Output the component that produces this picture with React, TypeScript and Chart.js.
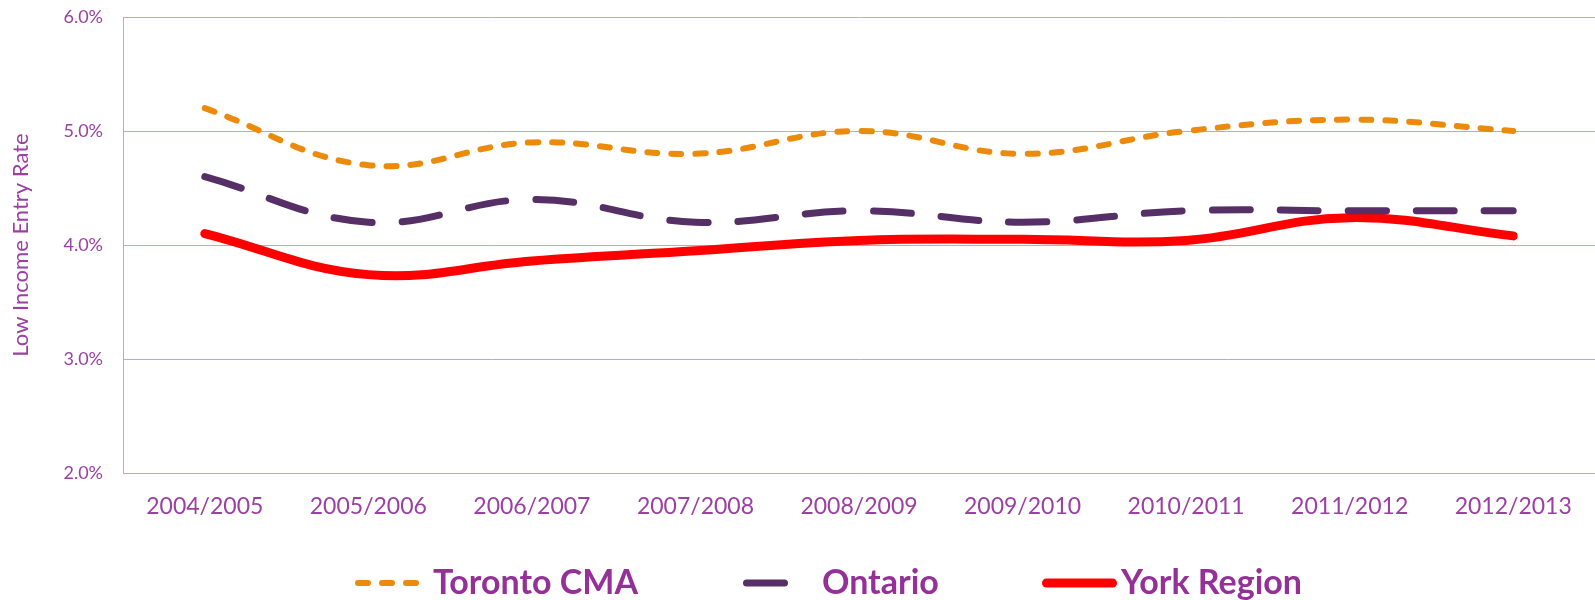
import React, { useEffect, useRef } from "react";
import { Chart, registerables } from "chart.js";

Chart.register(...registerables);

// ---- Data ----
const categories = [
  "2004/2005",
  "2005/2006",
  "2006/2007",
  "2007/2008",
  "2008/2009",
  "2009/2010",
  "2010/2011",
  "2011/2012",
  "2012/2013",
];
const seriesNames = ["Toronto CMA", "Ontario", "York Region"];
const torontoCMA = [5.2, 4.7, 4.9, 4.8, 5.0, 4.8, 5.0, 5.1, 5.0];
const ontario = [4.6, 4.2, 4.4, 4.2, 4.3, 4.2, 4.3, 4.3, 4.3];
const yorkRegion = [4.1, 3.74, 3.86, 3.95, 4.04, 4.05, 4.04, 4.24, 4.08];
const yMin = 2;
const yMax = 6;
const yStep = 1;
const yAxisTitle = "Low Income Entry Rate";

// ---- Styles ----
const FONT = "Lato, 'Open Sans', sans-serif";
const TEXT_COLOR = "#9C3FA3";
const LEGEND_COLOR = "#953098";
const GRID_COLOR = "#C9A0D4";
const seriesColors = ["#EB8A0B", "#552F65", "#FF0000"];
const seriesWidths = [6, 7, 9];
const seriesDashes: number[][] = [[10, 14], [38, 30], []];

// Legend layout (pixel positions)
const legendY = 583;
const legendStarts = [355, 743, 1042];
const legendLengths = [70, 50, 75];
const legendTextX = [433, 822, 1121];
const legendBaseline = 594;

const legendPlugin = {
  id: "customLegend",
  afterDraw(chart: any) {
    const ctx = chart.ctx as CanvasRenderingContext2D;
    chart.data.datasets.forEach((ds: any, i: number) => {
      ctx.save();
      const lw = ds.borderWidth;
      ctx.strokeStyle = ds.borderColor;
      ctx.lineWidth = lw;
      ctx.lineCap = "round";
      ctx.setLineDash(ds.borderDash || []);
      ctx.beginPath();
      ctx.moveTo(legendStarts[i] + lw / 2, legendY);
      ctx.lineTo(legendStarts[i] + legendLengths[i] - lw / 2, legendY);
      ctx.stroke();
      ctx.setLineDash([]);
      ctx.fillStyle = LEGEND_COLOR;
      ctx.font = `bold 34px ${FONT}`;
      ctx.textBaseline = "alphabetic";
      ctx.textAlign = "left";
      ctx.fillText(ds.label, legendTextX[i], legendBaseline);
      ctx.restore();
    });
  },
};

export default function App() {
  const canvasRef = useRef<HTMLCanvasElement | null>(null);

  useEffect(() => {
    document.body.style.margin = "0";
    const canvas = canvasRef.current;
    if (!canvas) return;
    const seriesData = [torontoCMA, ontario, yorkRegion];
    const chart = new Chart(canvas, {
      type: "line",
      data: {
        labels: categories,
        datasets: seriesNames.map((name, i) => ({
          label: name,
          data: seriesData[i],
          borderColor: seriesColors[i],
          backgroundColor: seriesColors[i],
          borderWidth: seriesWidths[i],
          borderDash: seriesDashes[i],
          borderCapStyle: "round" as const,
          borderJoinStyle: "round" as const,
          pointRadius: 0,
          pointHoverRadius: 0,
          tension: 0.4,
          fill: false,
        })),
      },
      options: {
        animation: false,
        responsive: false,
        maintainAspectRatio: false,
        layout: { padding: { top: 17, right: 0, bottom: 77, left: 0 } },
        plugins: {
          legend: { display: false },
          tooltip: { enabled: false },
        },
        scales: {
          x: {
            type: "category",
            offset: true,
            grid: { display: false, drawTicks: false },
            border: { display: true, color: GRID_COLOR, width: 1 },
            ticks: {
              color: TEXT_COLOR,
              font: { family: FONT, size: 23 },
              padding: 20,
              maxRotation: 0,
              autoSkip: false,
            },
            afterFit(scale: any) {
              scale.height = 50;
              scale.paddingLeft = 0;
              scale.paddingRight = 0;
            },
          },
          y: {
            min: yMin,
            max: yMax,
            ticks: {
              stepSize: yStep,
              color: TEXT_COLOR,
              font: { family: FONT, size: 18 },
              padding: 20,
              callback: (v: any) => `${Number(v).toFixed(1)}%`,
            },
            grid: { color: GRID_COLOR, lineWidth: 1, drawTicks: false },
            border: { display: true, color: GRID_COLOR, width: 1 },
            title: {
              display: true,
              text: yAxisTitle,
              color: TEXT_COLOR,
              font: { family: FONT, size: 22 },
              padding: { top: 8, bottom: 0 },
            },
            afterFit(scale: any) {
              scale.width = 123;
              scale.paddingTop = 0;
              scale.paddingBottom = 0;
            },
          },
        },
      },
      plugins: [legendPlugin],
    });
    return () => chart.destroy();
  }, []);

  return (
    <div style={{ width: 1595, height: 600 }}>
      <canvas ref={canvasRef} width={1595} height={600} style={{ display: "block" }} />
    </div>
  );
}
